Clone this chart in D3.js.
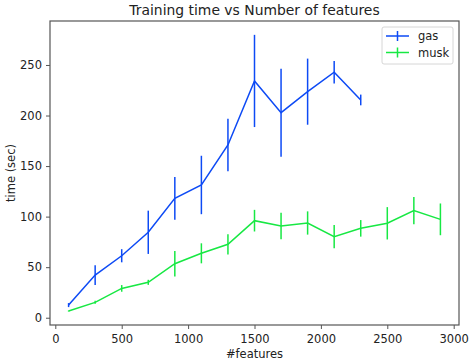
<!DOCTYPE html>
<html>
<head>
<meta charset="utf-8">
<script src="https://cdn.jsdelivr.net/npm/d3@7"></script>
<style>
  body { margin: 0; background: #fff; }
  text { font-family: "DejaVu Sans", sans-serif; fill: #222; }
  .axis path, .axis line { stroke: #555; }
  .axis text { font-size: 11.5px; fill: #222; }
</style>
</head>
<body>
<div id="chart"></div>
<script>
const gasX = [100, 300, 500, 700, 900, 1100, 1300, 1500, 1700, 1900, 2100, 2300];
const gasY = [12.5, 42.2, 61.3, 84.5, 118.1, 131.3, 170.9, 234.2, 202.8, 223.6, 242.8, 215.4];
const gasErr = [2, 9.8, 6.5, 21.4, 21.1, 28.9, 25.9, 45.6, 43.5, 32.7, 11.1, 5.3];

const muskX = [100, 300, 500, 700, 900, 1100, 1300, 1500, 1700, 1900, 2100, 2300, 2500, 2700, 2900];
const muskY = [6.6, 15.2, 29, 35, 53.4, 63.7, 72.6, 96, 90.7, 93.7, 80.1, 88.4, 93.4, 105.9, 97.3];
const muskErr = [0.5, 1.5, 3.3, 2.5, 12.7, 9.9, 10, 10.7, 13.2, 11.5, 11.5, 8.2, 16, 13.5, 15.7];

const xTicks = [0, 500, 1000, 1500, 2000, 2500, 3000];
const yTicks = [0, 50, 100, 150, 200, 250];

const series = [
  { name: "gas", color: "#0d4af5", x: gasX, y: gasY, err: gasErr },
  { name: "musk", color: "#17e843", x: muskX, y: muskY, err: muskErr }
];

const W = 469, H = 360;
const margin = { top: 21, right: 10, bottom: 35, left: 50 };

const svg = d3.select("#chart").append("svg")
  .attr("width", W).attr("height", H);

const x = d3.scaleLinear().domain([-40, 3040]).range([margin.left, W - margin.right]);
const y = d3.scaleLinear().domain([-7.2, 293.5]).range([H - margin.bottom, margin.top]);

svg.append("g")
  .attr("class", "axis")
  .attr("transform", `translate(0,${H - margin.bottom})`)
  .call(d3.axisBottom(x).tickValues(xTicks).tickFormat(d3.format("d"))
    .tickSize(4).tickPadding(5.5).tickSizeOuter(0))
  .call(g => g.select(".domain").remove());

svg.append("g")
  .attr("class", "axis")
  .attr("transform", `translate(${margin.left},0)`)
  .call(d3.axisLeft(y).tickValues(yTicks).tickSize(4).tickPadding(4).tickSizeOuter(0))
  .call(g => g.select(".domain").remove());

const lineGen = d3.line().x(d => x(d[0])).y(d => y(d[1]));

series.forEach(s => {
  const pts = s.x.map((v, i) => [v, s.y[i], s.err[i]]);
  svg.append("path")
    .datum(pts)
    .attr("fill", "none")
    .attr("stroke", s.color)
    .attr("stroke-width", 1.5)
    .attr("d", lineGen);
  svg.append("g").selectAll("line")
    .data(pts)
    .enter().append("line")
      .attr("x1", d => x(d[0]))
      .attr("x2", d => x(d[0]))
      .attr("y1", d => y(d[1] - d[2]))
      .attr("y2", d => y(d[1] + d[2]))
      .attr("stroke", s.color)
      .attr("stroke-width", 1.5);
});

// frame
svg.append("rect")
  .attr("x", margin.left).attr("y", margin.top)
  .attr("width", W - margin.left - margin.right)
  .attr("height", H - margin.top - margin.bottom)
  .attr("fill", "none")
  .attr("stroke", "#555")
  .attr("stroke-width", 1.2);

svg.append("text")
  .attr("x", (margin.left + W - margin.right) / 2)
  .attr("y", 15)
  .attr("text-anchor", "middle")
  .attr("font-size", 13.9)
  .text("Training time vs Number of features");

svg.append("text")
  .attr("x", (margin.left + W - margin.right) / 2)
  .attr("y", 358)
  .attr("text-anchor", "middle")
  .attr("font-size", 11.5)
  .text("#features");

svg.append("text")
  .attr("transform", `translate(15,${(margin.top + H - margin.bottom) / 2}) rotate(-90)`)
  .attr("text-anchor", "middle")
  .attr("font-size", 11.5)
  .text("time (sec)");

// legend
const legend = svg.append("g").attr("transform", "translate(382,27)");
legend.append("rect")
  .attr("width", 71).attr("height", 37).attr("rx", 2)
  .attr("fill", "#fff").attr("fill-opacity", 0.8)
  .attr("stroke", "#ccc").attr("stroke-width", 0.8);

const item = legend.selectAll(".item")
  .data(series)
  .enter().append("g")
    .attr("class", "item")
    .attr("transform", (d, i) => `translate(0,${9 + i * 16.5})`);

item.append("line")
  .attr("x1", 4).attr("x2", 27)
  .attr("stroke", d => d.color).attr("stroke-width", 1.5);
item.append("line")
  .attr("x1", 15.5).attr("x2", 15.5).attr("y1", -5).attr("y2", 5)
  .attr("stroke", d => d.color).attr("stroke-width", 1.5);
item.append("text")
  .attr("x", 36).attr("y", 4)
  .attr("font-size", 11.5)
  .text(d => d.name);
</script>
</body>
</html>
